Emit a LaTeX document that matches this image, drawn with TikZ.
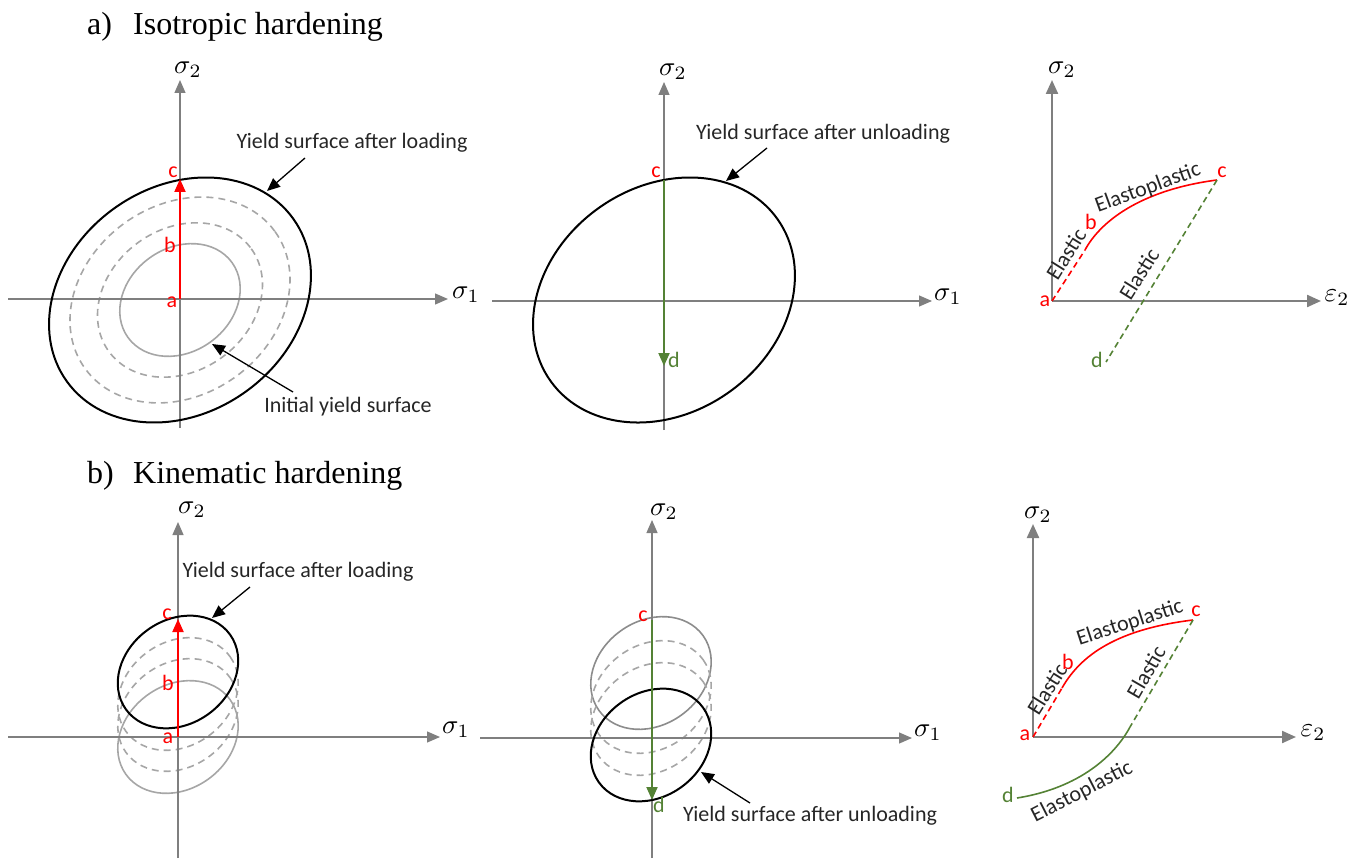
\documentclass[tikz,border=0pt]{standalone}
\usepackage{fontspec}
\newfontfamily\lblfont{Carlito}
\newfontfamily\ttlfont{Liberation Serif}
\usetikzlibrary{arrows.meta}
\definecolor{axgray}{HTML}{7F7F7F}
\definecolor{lgray}{HTML}{A6A6A6}
\definecolor{mgray}{HTML}{8C8C8C}
\definecolor{mygreen}{HTML}{548235}
\definecolor{myred}{HTML}{FF0000}
\definecolor{txt}{HTML}{262626}
\begin{document}
\begin{tikzpicture}[x=1pt,y=-1pt,
  axis/.style={draw=axgray,line width=1.2pt,-{Triangle[length=13pt,width=11pt]}},
  axthick/.style={draw=axgray,line width=2.2pt,-{Triangle[length=14pt,width=12pt]}},
  yieldline/.style={draw=black,line width=2pt},
  initline/.style={draw=lgray,line width=1.6pt},
  topgray/.style={draw=mgray,line width=1.6pt},
  dashline/.style={draw=lgray,line width=1.6pt,dash pattern=on 7pt off 5pt},
  lbl/.style={text=txt,font=\lblfont\fontsize{22}{26}\selectfont,inner sep=0pt},
  ptred/.style={text=myred,font=\lblfont\fontsize{22}{26}\selectfont,inner sep=0pt},
  ptgreen/.style={text=mygreen,font=\lblfont\fontsize{22}{26}\selectfont,inner sep=0pt},
  ttl/.style={font=\ttlfont\fontsize{32}{36}\selectfont,inner sep=0pt,anchor=base west},
  mlbl/.style={scale=2.7,inner sep=0pt,text=black},
  annot/.style={draw=black,line width=1.3pt,-{Triangle[length=13pt,width=11pt]}},
  redarr/.style={draw=myred,line width=2pt,-{Triangle[length=13pt,width=11pt]}},
  greenarr/.style={draw=mygreen,line width=2pt,-{Triangle[length=13pt,width=11pt]}},
  redcurve/.style={draw=myred,line width=1.6pt},
  reddash/.style={draw=myred,line width=1.6pt,dash pattern=on 6pt off 4pt},
  greencurve/.style={draw=mygreen,line width=1.6pt},
  greendash/.style={draw=mygreen,line width=1.6pt,dash pattern=on 6pt off 4pt}
]
\useasboundingbox (0,0) rectangle (1363,861);

% titles
\node[ttl] (ta) at (87,35) {a)};
\node[ttl] (tai) at (133,35) {Isotropic hardening};
\node[ttl] (tb) at (87,483) {b)};
\node[ttl] (tbk) at (133,483) {Kinematic hardening};

%================ a1 =================
\coordinate (A1o) at (180,300);
\draw[initline,rotate around={35.7:(A1o)}] (A1o) ellipse [x radius=64.1,y radius=51.9];
\draw[dashline,rotate around={35.7:(A1o)}] (A1o) ellipse [x radius=87.8,y radius=71.1];
\draw[dashline,rotate around={35.7:(A1o)}] (A1o) ellipse [x radius=117.1,y radius=94.8];
\coordinate (A1l) at (8,299);
\coordinate (A1r) at (448,299);
\coordinate (A1b) at (180,428);
\coordinate (A1t) at (180,80);
\draw[axis] (A1l) -- (A1r);
\draw[axis] (A1b) -- (A1t);
\draw[yieldline,rotate around={35.7:(A1o)}] (A1o) ellipse [x radius=139.4,y radius=112.8];
\node[mlbl] (A1s2) at (188,70) {$\sigma_2$};
\node[mlbl] (A1s1) at (466,295) {$\sigma_1$};
\coordinate (A1a) at (180,299);
\coordinate (A1c) at (180,179);
\draw[redarr] (A1a) -- (A1c);
\node[ptred] (A1la) at (172,302) {a};
\node[ptred] (A1lb) at (170,245) {b};
\node[ptred] (A1lc) at (173,172) {c};
\node[lbl] (A1ys) at (352,143) {Yield surface after loading};
\coordinate (A1ys1) at (305,158);
\coordinate (A1ys2) at (267,191);
\draw[annot] (A1ys1) -- (A1ys2);
\node[lbl] (A1in) at (348,407) {Initial yield surface};
\coordinate (A1in1) at (293,392);
\coordinate (A1in2) at (212,344);
\draw[annot] (A1in1) -- (A1in2);

%================ a2 =================
\coordinate (A2o) at (664,300);
\coordinate (A2l) at (492,301);
\coordinate (A2r) at (932,301);
\coordinate (A2b) at (664,430);
\coordinate (A2t) at (664,82);
\draw[axis] (A2l) -- (A2r);
\draw[axis] (A2b) -- (A2t);
\draw[yieldline,rotate around={35.7:(A2o)}] (A2o) ellipse [x radius=139.4,y radius=112.8];
\node[mlbl] (A2s2) at (673,72) {$\sigma_2$};
\node[mlbl] (A2s1) at (948,297) {$\sigma_1$};
\coordinate (A2c) at (664,180);
\coordinate (A2d) at (664,366);
\draw[greenarr] (A2c) -- (A2d);
\node[ptred] (A2lc) at (656,172) {c};
\node[ptgreen] (A2ld) at (674,360) {d};
\node[lbl] (A2ys) at (823,134) {Yield surface after unloading};
\coordinate (A2ys1) at (767,148);
\coordinate (A2ys2) at (726,181);
\draw[annot] (A2ys1) -- (A2ys2);

%================ a3 =================
\coordinate (A3o) at (1052,301);
\coordinate (A3r) at (1321,301);
\coordinate (A3t) at (1052,80);
\draw[axthick] (A3o) -- (A3r);
\draw[axthick] (A3o) -- (A3t);
\node[mlbl] (A3s2) at (1062,70) {$\sigma_2$};
\node[mlbl] (A3e2) at (1337,298) {$\varepsilon_2$};
\coordinate (A3b) at (1085,250);
\coordinate (A3c) at (1217,180);
\coordinate (A3d) at (1106,362);
\draw[reddash] (A3o) -- (A3b);
\draw[redcurve] (A3b) .. controls (1100,222) and (1140,190) .. (A3c);
\draw[greendash] (A3c) -- (A3d);
\node[ptred] (A3la) at (1045,301) {a};
\node[ptred] (A3lb) at (1091,222) {b};
\node[ptred] (A3lc) at (1222,172) {c};
\node[ptgreen] (A3ld) at (1097,360) {d};
\node[lbl,rotate=58] (A3e1) at (1066,254) {Elastic};
\node[lbl,rotate=20] (A3ep) at (1148,188) {Elastoplastic};
\node[lbl,rotate=58] (A3e3) at (1139,274) {Elastic};

%================ b1 =================
\coordinate (B1o) at (178,737);
\coordinate (B1e2) at (178,715);
\coordinate (B1e3) at (178,694);
\coordinate (B1e4) at (178,672);
\draw[initline,rotate around={35.7:(B1o)}] (B1o) ellipse [x radius=64.1,y radius=51.9];
\draw[dashline,rotate around={35.7:(B1e2)}] (B1e2) ellipse [x radius=64.1,y radius=51.9];
\draw[dashline,rotate around={35.7:(B1e3)}] (B1e3) ellipse [x radius=64.1,y radius=51.9];
\coordinate (B1l) at (8,737);
\coordinate (B1r) at (440,737);
\coordinate (B1b) at (178,858);
\coordinate (B1t) at (178,522);
\draw[axis] (B1l) -- (B1r);
\draw[axis] (B1b) -- (B1t);
\draw[yieldline,rotate around={35.7:(B1e4)}] (B1e4) ellipse [x radius=64.1,y radius=51.9];
\node[mlbl] (B1s2) at (192,510) {$\sigma_2$};
\node[mlbl] (B1s1) at (456,730) {$\sigma_1$};
\coordinate (B1c) at (178,619);
\draw[redarr] (B1o) -- (B1c);
\node[ptred] (B1la) at (168,738) {a};
\node[ptred] (B1lb) at (168,683) {b};
\node[ptred] (B1lc) at (167,614) {c};
\node[lbl] (B1ys) at (298,572) {Yield surface after loading};
\coordinate (B1ys1) at (250,587);
\coordinate (B1ys2) at (212,618);
\draw[annot] (B1ys1) -- (B1ys2);

%================ b2 =================
\coordinate (B2e1) at (651,673);
\coordinate (B2e2) at (651,697);
\coordinate (B2e3) at (651,719);
\coordinate (B2e4) at (651,745);
\draw[topgray,rotate around={35.7:(B2e1)}] (B2e1) ellipse [x radius=64.1,y radius=51.9];
\draw[dashline,rotate around={35.7:(B2e2)}] (B2e2) ellipse [x radius=64.1,y radius=51.9];
\draw[dashline,rotate around={35.7:(B2e3)}] (B2e3) ellipse [x radius=64.1,y radius=51.9];
\coordinate (B2l) at (480,738);
\coordinate (B2r) at (912,738);
\coordinate (B2b) at (652,858);
\coordinate (B2t) at (652,520);
\draw[axis] (B2l) -- (B2r);
\draw[axis] (B2b) -- (B2t);
\draw[yieldline,rotate around={35.7:(B2e4)}] (B2e4) ellipse [x radius=64.1,y radius=51.9];
\node[mlbl] (B2s2) at (664,512) {$\sigma_2$};
\node[mlbl] (B2s1) at (928,733) {$\sigma_1$};
\coordinate (B2c) at (652,620);
\coordinate (B2d) at (652,800);
\draw[greenarr] (B2c) -- (B2d);
\node[ptred] (B2lc) at (643,616) {c};
\node[ptgreen] (B2ld) at (659,805) {d};
\node[lbl] (B2ys) at (810,816) {Yield surface after unloading};
\coordinate (B2ys1) at (750,803);
\coordinate (B2ys2) at (701,772);
\draw[annot] (B2ys1) -- (B2ys2);

%================ b3 =================
\coordinate (B3o) at (1033,737);
\coordinate (B3r) at (1296,737);
\coordinate (B3t) at (1033,524);
\draw[axthick] (B3o) -- (B3r);
\draw[axthick] (B3o) -- (B3t);
\node[mlbl] (B3s2) at (1038,515) {$\sigma_2$};
\node[mlbl] (B3e2) at (1313,733) {$\varepsilon_2$};
\coordinate (B3b) at (1062,688);
\coordinate (B3c) at (1193,620);
\coordinate (B3y) at (1130,727);
\coordinate (B3d) at (1017,798);
\draw[reddash] (B3o) -- (B3b);
\draw[redcurve] (B3b) .. controls (1078,660) and (1110,630) .. (B3c);
\draw[greendash] (B3c) -- (B3y);
\draw[greencurve] (B3y) .. controls (1115,755) and (1080,788) .. (B3d);
\node[ptred] (B3la) at (1025,735) {a};
\node[ptred] (B3lb) at (1068,662) {b};
\node[ptred] (B3lc) at (1196,611) {c};
\node[ptgreen] (B3ld) at (1008,795) {d};
\node[lbl,rotate=58] (B3e1) at (1047,689) {Elastic};
\node[lbl,rotate=18] (B3ep) at (1130,623) {Elastoplastic};
\node[lbl,rotate=60] (B3e3) at (1146,672) {Elastic};
\node[lbl,rotate=27] (B3ep2) at (1082,792) {Elastoplastic};
\end{tikzpicture}
\end{document}
